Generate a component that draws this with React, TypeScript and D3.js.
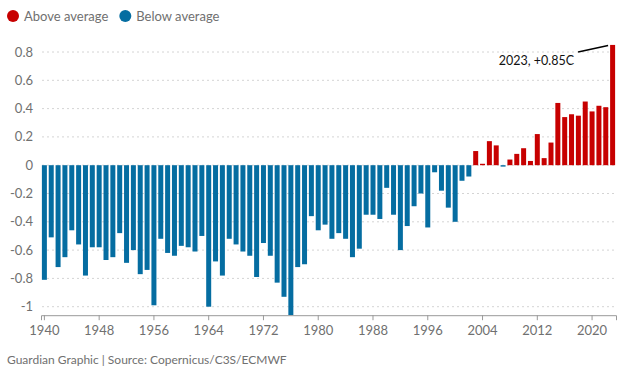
import React, { useEffect, useRef } from 'react';
import * as d3 from 'd3';

// years 1940..2023
const years = d3.range(1940, 2024);

// temperature anomaly vs average, °C
const anomalies = [
  -0.81, -0.51, -0.72, -0.65, -0.46, -0.56, -0.78, -0.58, -0.58, -0.67,
  -0.65, -0.48, -0.69, -0.6, -0.77, -0.74, -0.99, -0.52, -0.62, -0.64,
  -0.57, -0.58, -0.61, -0.5, -1.0, -0.68, -0.78, -0.52, -0.56, -0.61,
  -0.64, -0.79, -0.55, -0.64, -0.83, -0.93, -1.06, -0.72, -0.7, -0.36,
  -0.46, -0.42, -0.52, -0.48, -0.52, -0.65, -0.59, -0.35, -0.35, -0.38,
  -0.16, -0.35, -0.6, -0.43, -0.29, -0.2, -0.44, -0.05, -0.18, -0.3,
  -0.4, -0.11, -0.08, 0.1, 0.01, 0.17, 0.14, -0.01, 0.04, 0.08,
  0.12, 0.03, 0.22, 0.05, 0.16, 0.44, 0.34, 0.36, 0.35, 0.45,
  0.38, 0.42, 0.41, 0.85,
];

const yTicks = [-1, -0.8, -0.6, -0.4, -0.2, 0, 0.2, 0.4, 0.6, 0.8];
const xTicks = [1940, 1948, 1956, 1964, 1972, 1980, 1988, 1996, 2004, 2012, 2020];

const legendItems = [
  { label: 'Above average', color: '#c70000' },
  { label: 'Below average', color: '#056da1' },
];

const App: React.FC = () => {
  const svgRef = useRef<SVGSVGElement | null>(null);

  useEffect(() => {
    if (!svgRef.current) return;
    const width = 634;
    const height = 371;
    const font = 'Lato, "Open Sans", sans-serif';

    const svg = d3.select(svgRef.current);
    svg.selectAll('*').remove();
    svg.attr('width', width).attr('height', height).style('font-family', font);

    const data = years.map((year, i) => ({ year, value: anomalies[i] }));

    const x = d3
      .scaleBand<number>()
      .domain(years)
      .range([41, 616])
      .paddingInner(0.27)
      .paddingOuter(0.13);

    const y = d3.scaleLinear().domain([-1, 0.8]).range([306.7, 52]);
    const axisY = y(-1.06);

    // legend
    const legend = svg.append('g');
    let lx = 13;
    legendItems.forEach((item) => {
      legend.append('circle').attr('cx', lx).attr('cy', 16).attr('r', 6).attr('fill', item.color);
      const t = legend
        .append('text')
        .attr('x', lx + 11)
        .attr('y', 20.5)
        .attr('font-size', 13)
        .attr('fill', '#707070')
        .text(item.label);
      const w = (t.node() as SVGTextElement).getComputedTextLength();
      lx += 11 + w + 17;
    });

    // grid lines
    svg
      .append('g')
      .selectAll('line')
      .data(yTicks)
      .enter()
      .append('line')
      .attr('x1', 42)
      .attr('x2', 617)
      .attr('y1', (d) => y(d))
      .attr('y2', (d) => y(d))
      .attr('stroke', '#d4d4d4')
      .attr('stroke-width', 1)
      .attr('stroke-dasharray', '2,3');

    // y labels
    svg
      .append('g')
      .selectAll('text')
      .data(yTicks)
      .enter()
      .append('text')
      .attr('x', 33)
      .attr('y', (d) => y(d) + 4.5)
      .attr('text-anchor', 'end')
      .attr('font-size', 13)
      .attr('fill', '#707070')
      .text((d) => String(d));

    // bars
    svg
      .append('g')
      .selectAll('rect')
      .data(data)
      .enter()
      .append('rect')
      .attr('x', (d) => x(d.year) as number)
      .attr('y', (d) => y(Math.max(0, d.value)))
      .attr('width', x.bandwidth())
      .attr('height', (d) => Math.abs(y(d.value) - y(0)))
      .attr('fill', (d) => (d.value >= 0 ? '#c70000' : '#056da1'));

    // x axis
    const xAxis = svg
      .append('g')
      .attr('transform', `translate(0,${axisY})`)
      .call(d3.axisBottom(x).tickValues(xTicks).tickSize(5).tickSizeOuter(5));
    xAxis.select('.domain').attr('stroke', '#999');
    xAxis.selectAll('.tick line').attr('stroke', '#999');
    xAxis
      .selectAll('.tick text')
      .attr('font-size', 13)
      .attr('font-family', font)
      .attr('fill', '#707070')
      .attr('dy', '0.9em');

    // annotation for 2023
    const last = data[data.length - 1];
    const bx = (x(last.year) as number) - 2;
    const by = y(last.value);
    svg
      .append('path')
      .attr('d', `M${bx - 30},${by + 7} L${bx},${by + 0.5}`)
      .attr('stroke', '#000')
      .attr('stroke-width', 1.5)
      .attr('fill', 'none');
    svg
      .append('text')
      .attr('x', bx - 34)
      .attr('y', by + 20)
      .attr('text-anchor', 'end')
      .attr('font-size', 12.5)
      .attr('fill', '#121212')
      .text('2023, +0.85C');

    // footer
    svg
      .append('text')
      .attr('x', 7)
      .attr('y', 364)
      .attr('font-size', 12)
      .attr('fill', '#707070')
      .text('Guardian Graphic | Source: Copernicus/C3S/ECMWF');
  }, []);

  return (
    <div style={{ position: 'absolute', left: 0, top: 0 }}>
      <svg ref={svgRef}></svg>
    </div>
  );
};

export default App;
